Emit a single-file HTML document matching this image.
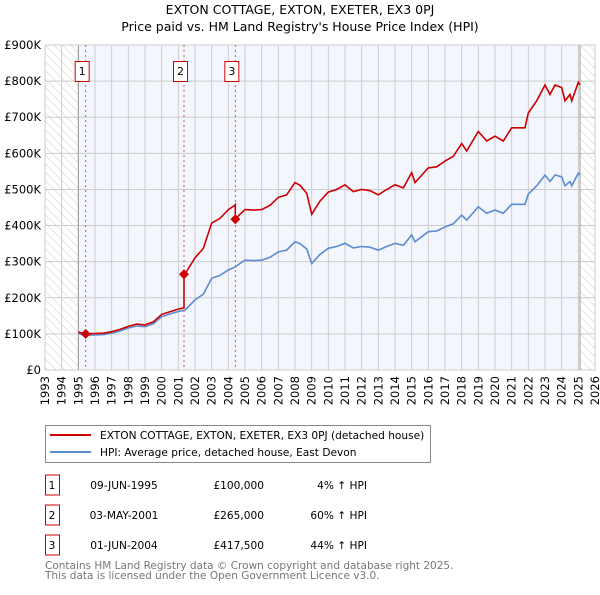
<!DOCTYPE html>
<html><head><meta charset="utf-8"><style>
body{margin:0;background:#fff;width:600px;height:590px;overflow:hidden}
svg text{font-family:"DejaVu Sans","Liberation Sans",sans-serif}
</style></head><body>
<svg width="600" height="590" xmlns="http://www.w3.org/2000/svg">
<defs><pattern id="hatch" width="6" height="6" patternUnits="userSpaceOnUse" patternTransform="rotate(-45)"><rect width="6" height="6" fill="#fff"/><line x1="0" y1="0" x2="0" y2="6" stroke="#ccc" stroke-width="1"/></pattern></defs>
<text x="300" y="14" text-anchor="middle" font-size="12.5" fill="#000">EXTON COTTAGE, EXTON, EXETER, EX3 0PJ</text>
<text x="300" y="31" text-anchor="middle" font-size="12.5" fill="#000">Price paid vs. HM Land Registry's House Price Index (HPI)</text>
<g id="plot"></g>
<g>
<rect x="45.5" y="425.5" width="385" height="37" fill="#fff" stroke="#888"/>
<line x1="50" y1="435" x2="91" y2="435" stroke="#cc0000" stroke-width="2"/>
<text x="100" y="439" font-size="10.6">EXTON COTTAGE, EXTON, EXETER, EX3 0PJ (detached house)</text>
<line x1="50" y1="452" x2="91" y2="452" stroke="#5b8bd0" stroke-width="2"/>
<text x="100" y="456" font-size="10.6">HPI: Average price, detached house, East Devon</text>
</g>
<g id="table"></g>
<text x="45" y="569" font-size="10.5" fill="#777">Contains HM Land Registry data © Crown copyright and database right 2025.</text>
<text x="45" y="579" font-size="10.5" fill="#777">This data is licensed under the Open Government Licence v3.0.</text>
</svg>
<script>
const hpiYears=[1995.0,1995.4,1996.0,1996.5,1997.0,1997.5,1998.0,1998.5,1999.0,1999.5,2000.0,2000.5,2001.0,2001.4,2002.0,2002.5,2003.0,2003.5,2004.0,2004.4,2004.7,2005.0,2005.5,2006.0,2006.5,2007.0,2007.5,2008.0,2008.3,2008.7,2009.0,2009.5,2010.0,2010.5,2011.0,2011.5,2012.0,2012.5,2013.0,2013.5,2014.0,2014.5,2015.0,2015.2,2016.0,2016.5,2017.0,2017.5,2018.0,2018.3,2019.0,2019.5,2020.0,2020.5,2021.0,2021.8,2022.0,2022.5,2023.0,2023.3,2023.6,2024.0,2024.2,2024.5,2024.6,2025.0,2025.1];
const hpiValues=[101,96,97,98,102,108,116,122,120,128,148,155,162,166,194,210,254,262,277,285,295,304,303,304,312,327,332,355,350,335,295,320,337,342,351,338,342,340,332,342,351,345,374,355,383,385,396,405,429,415,452,434,443,434,459,459,487,510,540,522,540,535,510,522,510,545,540];
const saleLabels=["1","2","3"];
const saleDates=[1995.44,2001.34,2004.42];
const salePrices=[100,265,417.5];
const saleDateText=["09-JUN-1995","03-MAY-2001","01-JUN-2004"];
const salePriceText=["£100,000","£265,000","£417,500"];
const saleHpiText=["4% ↑ HPI","60% ↑ HPI","44% ↑ HPI"];
const yTicks=[0,100,200,300,400,500,600,700,800,900];
const yTickLabels=["£0","£100K","£200K","£300K","£400K","£500K","£600K","£700K","£800K","£900K"];
const xStart=1993,xEnd=2026,dataStart=1995,dataEnd=2025.1;

const L=45,R=595,T=45,B=370,NS="http://www.w3.org/2000/svg";
const xs=y=>L+(y-xStart)/(xEnd-xStart)*(R-L);
const ys=v=>B-v/900*(B-T);
function mk(tag,attrs,parent){const e=document.createElementNS(NS,tag);for(const k in attrs)e.setAttribute(k,attrs[k]);parent.appendChild(e);return e;}
const g=document.getElementById('plot');
mk('rect',{x:L,y:T,width:R-L,height:B-T,fill:'#fff'},g);
let r=mk('rect',{x:L,y:T,width:xs(dataStart)-L,height:B-T,fill:'url(#hatch)'},g);


r=mk('rect',{x:xs(dataEnd),y:T,width:R-xs(dataEnd),height:B-T,fill:'url(#hatch)'},g);


r=mk('rect',{x:xs(dataStart),y:T,width:xs(dataEnd)-xs(dataStart),height:B-T,fill:'#f3f6fd'},g);


for(let yr=xStart;yr<=xEnd;yr++){
  mk('line',{x1:xs(yr),x2:xs(yr),y1:T,y2:B,stroke:'#ccc','stroke-width':1},g);
  const t=mk('text',{x:0,y:0,'font-size':11.5,'text-anchor':'end',transform:`translate(${xs(yr)+4},${B+6}) rotate(-90)`},g);
  t.textContent=yr;
  
  
}
yTicks.forEach((v,i)=>{
  mk('line',{x1:L,x2:R,y1:ys(v),y2:ys(v),stroke:'#ccc','stroke-width':1},g);
  const t=mk('text',{x:L-4,y:ys(v)+4,'font-size':11.5,'text-anchor':'end'},g);
  t.textContent=yTickLabels[i];
  
  
});
mk('line',{x1:xs(dataStart),x2:xs(dataStart),y1:T,y2:B,stroke:'#999','stroke-width':1},g);
mk('line',{x1:xs(dataEnd),x2:xs(dataEnd),y1:T,y2:B,stroke:'#999','stroke-width':1},g);
mk('rect',{x:L,y:T,width:R-L,height:B-T,fill:'none',stroke:'#ccc'},g);
saleDates.forEach((d,i)=>{
  const l=mk('line',{x1:xs(d),x2:xs(d),y1:T,y2:B,stroke:'#e05050','stroke-width':1,'stroke-dasharray':'2,3'},g);
  
  
});
const hp=hpiYears.map((y,i)=>`${xs(y).toFixed(1)},${ys(hpiValues[i]).toFixed(1)}`).join(' ');
let pl=mk('polyline',{points:hp,fill:'none',stroke:'#5b8bd0','stroke-width':1.6},g);


function hpiAt(t){for(let i=1;i<hpiYears.length;i++){if(t<=hpiYears[i]){const f=(t-hpiYears[i-1])/(hpiYears[i]-hpiYears[i-1]);return hpiValues[i-1]+f*(hpiValues[i]-hpiValues[i-1]);}}return hpiValues[hpiValues.length-1];}
const ratios=saleDates.map((d,i)=>salePrices[i]/hpiAt(d));
const pts=[];
hpiYears.forEach((y,i)=>{
  let k=0;for(let j=0;j<saleDates.length;j++)if(y>=saleDates[j])k=j;
  saleDates.forEach((d,j)=>{if(j>0&&d>(i?hpiYears[i-1]:0)&&d<=y){pts.push([d,hpiAt(d)*ratios[j-1]]);pts.push([d,salePrices[j]]);}});
  pts.push([y,hpiValues[i]*ratios[k]]);
});
pl=mk('polyline',{points:pts.map(p=>`${xs(p[0]).toFixed(1)},${ys(p[1]).toFixed(1)}`).join(' '),fill:'none',stroke:'#cc0000','stroke-width':1.6},g);


saleDates.forEach((d,i)=>{
  const x=xs(d),y=ys(salePrices[i]);
  const p=mk('polygon',{points:`${x},${y-5} ${x+5},${y} ${x},${y+5} ${x-5},${y}`,fill:'#cc0000'},g);
  
  
  const b=mk('rect',{x:x-10.5,y:61.5,width:14,height:20,fill:'#fff',stroke:'#cc0000'},g);
  
  
  const t=mk('text',{x:x-3.5,y:75,'font-size':11,'text-anchor':'middle'},g);
  t.textContent=saleLabels[i];
  
  
});
const tb=document.getElementById('table');
saleLabels.forEach((s,i)=>{
  const y=485+i*30;
  const b=mk('rect',{x:45.5,y:y-10,width:14,height:20,fill:'#fff',stroke:'#cc0000'},tb);
  
  
  const cells=[[52,'middle',s],[124,'middle',saleDateText[i]],[264,'end',salePriceText[i]],[367,'end',saleHpiText[i]]];
  cells.forEach(c=>{const t=mk('text',{x:c[0],y:y+4,'text-anchor':c[1],'font-size':10.6},tb);t.textContent=c[2];
    
    });
});
</script>
</body></html>
